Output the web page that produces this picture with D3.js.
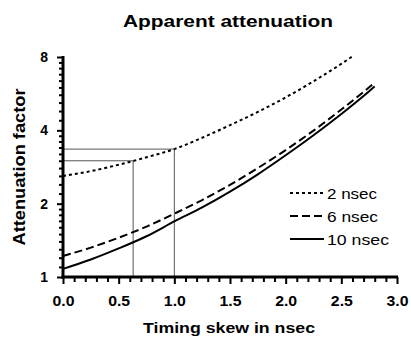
<!DOCTYPE html>
<html>
<head>
<meta charset="utf-8">
<script src="https://cdn.jsdelivr.net/npm/d3@7"></script>
<style>
  body { margin: 0; background: #fff; }
  text { font-family: 'Liberation Sans', Arial, sans-serif; }
</style>
</head>
<body>
<div id="chart"></div>
<script>
// skew values (nsec) and apparent attenuation
const skew2 = [0, 0.25, 0.5, 0.75, 1.0, 1.25, 1.5, 1.75, 2.0, 2.25, 2.5, 2.6];
const atten2 = [2.60, 2.72, 2.89, 3.10, 3.35, 3.73, 4.20, 4.76, 5.46, 6.36, 7.50, 8.05];

const skew6 = [0, 0.25, 0.5, 0.75, 1.0, 1.25, 1.5, 1.75, 2.0, 2.25, 2.5, 2.75, 2.8];
const atten6 = [1.22, 1.32, 1.45, 1.61, 1.82, 2.07, 2.39, 2.80, 3.32, 3.99, 4.87, 6.01, 6.28];

const skew10 = [0, 0.25, 0.5, 0.75, 1.0, 1.25, 1.5, 1.75, 2.0, 2.25, 2.5, 2.75, 2.8];
const atten10 = [1.08, 1.18, 1.31, 1.47, 1.69, 1.93, 2.24, 2.64, 3.16, 3.82, 4.67, 5.79, 6.06];

// reference guides: skew -> attenuation on the 2 nsec curve
const guideSkew = [0.63, 1.0];
const guideAtten = [3.0, 3.35];

const legendLabels = ['2 nsec', '6 nsec', '10 nsec'];
const legendWidths = [50, 51, 62];
const xTicks = [0, 0.5, 1.0, 1.5, 2.0, 2.5, 3.0];
const yTicks = [1, 2, 4, 8];

const W = 411, H = 339;

const svg = d3.select('#chart').append('svg')
  .attr('width', W)
  .attr('height', H);

const x = d3.scaleLinear().domain([0, 3]).range([63, 397]);
const y = d3.scaleLog().base(2).domain([1, 8]).range([277, 57]);

// minor ticks
const xMinor = d3.range(0, 3.001, 0.1).map(v => +v.toFixed(2)).filter(v => !xTicks.includes(v));
const yMinor = [];
[[1, 0.1], [2, 0.2], [4, 0.4]].forEach(([start, step]) => {
  for (let i = 1; i < 10; i++) yMinor.push(start + i * step);
});

// guide lines
const guides = svg.append('g')
  .attr('stroke', '#555')
  .attr('stroke-width', 1)
  .attr('fill', 'none');
guideSkew.forEach((s, i) => {
  guides.append('path')
    .attr('d', `M${x(0)},${y(guideAtten[i])}H${x(s)}V${y(1)}`);
});

// curves
const line = d3.line().x(d => x(d[0])).y(d => y(d[1])).curve(d3.curveMonotoneX);
const series = [
  { xs: skew2, ys: atten2, dash: '3,3' },
  { xs: skew6, ys: atten6, dash: '8,4' },
  { xs: skew10, ys: atten10, dash: null }
];
series.forEach(s => {
  svg.append('path')
    .datum(s.xs.map((v, i) => [v, s.ys[i]]))
    .attr('d', line)
    .attr('fill', 'none')
    .attr('stroke', '#000')
    .attr('stroke-width', 2)
    .attr('stroke-dasharray', s.dash);
});

// axes
const xAxis = svg.append('g')
  .attr('transform', `translate(0,${y(1)})`)
  .call(d3.axisBottom(x).tickValues(xTicks).tickSize(7).tickPadding(12).tickFormat(d3.format('.1f')));
svg.append('g')
  .attr('transform', `translate(0,${y(1)})`)
  .call(d3.axisBottom(x).tickValues(xMinor).tickSize(5).tickFormat(''))
  .select('.domain').remove();

const yAxis = svg.append('g')
  .attr('transform', `translate(${x(0)},0)`)
  .call(d3.axisLeft(y).tickValues(yTicks).tickSize(6).tickPadding(9).tickFormat(d3.format('d')));
svg.append('g')
  .attr('transform', `translate(${x(0)},0)`)
  .call(d3.axisLeft(y).tickValues(yMinor).tickSize(4).tickFormat(''))
  .select('.domain').remove();

xAxis.select('.domain').attr('stroke-width', 3).attr('d', `M${x(0) - 1.5},0H${x(3) + 1}`);
yAxis.select('.domain').attr('stroke-width', 3).attr('d', `M0,${y(1) + 1.5}V${y(8) - 1}`);
svg.selectAll('.tick line').attr('stroke-width', 2);
svg.selectAll('.tick text')
  .style('font-size', '14px')
  .style('font-weight', 'bold')
  .attr('fill', '#000');
xAxis.selectAll('.tick text')
  .attr('textLength', 22)
  .attr('lengthAdjust', 'spacingAndGlyphs');

// titles
svg.append('text')
  .attr('x', 228).attr('y', 27)
  .attr('text-anchor', 'middle')
  .attr('textLength', 210).attr('lengthAdjust', 'spacingAndGlyphs')
  .style('font-size', '17px').style('font-weight', 'bold')
  .text('Apparent attenuation');

svg.append('text')
  .attr('x', 229).attr('y', 333)
  .attr('text-anchor', 'middle')
  .attr('textLength', 172).attr('lengthAdjust', 'spacingAndGlyphs')
  .style('font-size', '15px').style('font-weight', 'bold')
  .text('Timing skew in nsec');

svg.append('text')
  .attr('transform', 'translate(25,167) rotate(-90)')
  .attr('text-anchor', 'middle')
  .attr('textLength', 157).attr('lengthAdjust', 'spacingAndGlyphs')
  .style('font-size', '16px').style('font-weight', 'bold')
  .text('Attenuation factor');

// legend
const legend = svg.append('g').attr('transform', 'translate(290,193)');
legendLabels.forEach((label, i) => {
  const g = legend.append('g').attr('transform', `translate(0,${i * 23})`);
  g.append('line')
    .attr('x1', 0).attr('x2', 34)
    .attr('stroke', '#000').attr('stroke-width', 2)
    .attr('stroke-dasharray', series[i].dash);
  g.append('text')
    .attr('x', 37).attr('y', 5.5)
    .attr('textLength', legendWidths[i]).attr('lengthAdjust', 'spacingAndGlyphs')
    .style('font-size', '15px')
    .text(label);
});
</script>
</body>
</html>
